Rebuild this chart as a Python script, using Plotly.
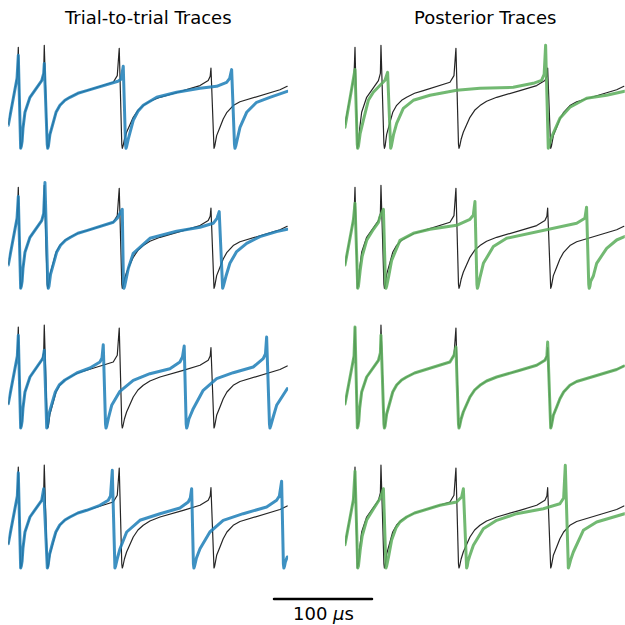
import plotly.graph_objects as go

# ---------------- data (time in microseconds, voltage in mV) ----------------
# Observed trace (black), identical in every panel
OBS_T = [0, 5.1, 9.2, 10.2, 12.1, 12.6, 13.3, 14.1, 15.0, 17.0, 22.1, 29.0, 34.1, 36.1, 36.7, 39.7, 40.2, 40.9,
         41.7, 42.5, 45.9, 48.7, 52.7, 57.8, 62.9, 71.0, 80.0, 96.9, 107.1, 111.2, 113.2, 115.8, 116.3, 117.0,
         117.7, 118.5, 120.7, 127.5, 132.3, 137.7, 144.5, 154.8, 178.5, 195.6, 204.0, 206.0, 206.8, 209.4,
         209.9, 210.6, 211.4, 212.6, 216.0, 219.3, 223.1, 229.5, 236.4, 246.5, 263.6, 277.2, 284.6]
OBS_V = [-51, -23, -3, 26, -71, -75, -73, -68, -55, -39, -24, -14, -7.3, 0, 28, -71, -75, -73, -68, -61, -49,
         -39, -32, -27, -24, -20, -17.3, -12.3, -9, -2.3, 25, -71, -75, -73, -69, -66, -59, -44, -37, -32.3,
         -28, -24, -17.3, -12.3, -7.3, -3, 5.3, -71, -75, -73, -68, -62.3, -54, -45.7, -39, -32.3, -28.5,
         -25.7, -20.7, -16.5, -13]

# Trial-to-trial traces (blue), rows 1-4
B1_T = [0, 5.1, 8.9, 10.2, 12.1, 12.6, 13.3, 14.1, 15.0, 17.0, 22.1, 29.0, 34.1, 36.1, 36.7, 39.7, 40.2, 40.9,
        41.7, 42.5, 45.9, 48.7, 52.7, 57.8, 62.9, 71.0, 80.0, 96.9, 107.1, 111.9, 115.0, 117.3, 119.6, 120.1,
        120.8, 121.6, 122.6, 127.5, 132.3, 137.7, 151.4, 171.8, 195.6, 212.6, 222.8, 225.9, 227.9, 230.8,
        231.3, 232.0, 232.8, 233.8, 236.4, 243.2, 253.4, 266.9, 284.6]
B1_V = [-52, -24, -5, 18, -71, -75, -73, -68, -55, -39, -24, -14, -7.3, 0, 9.7, -71, -75, -73, -68, -61, -49,
        -39, -32, -27, -24, -20, -17.3, -12.3, -9, -8, -6, 7, -71, -75, -73, -69, -65, -47, -38, -32, -24, -19,
        -15, -13, -9, -5, 3.7, -71, -75, -73, -69, -65, -54, -39, -29, -24, -18]

B2_T = [0, 5.1, 8.9, 10.2, 12.1, 12.6, 13.3, 14.1, 15.0, 17.0, 22.1, 29.0, 34.1, 36.1, 37.4, 40.3, 40.8, 41.5,
        42.3, 43.1, 46.5, 49.3, 53.3, 58.4, 63.5, 71.0, 80.0, 96.9, 107.1, 111.2, 116.3, 117.5, 118.0, 118.7,
        119.5, 120.2, 122.5, 127.5, 137.7, 144.5, 171.7, 195.6, 209.1, 213.0, 215.2, 218.2, 218.7, 219.4,
        220.2, 222.1, 226.1, 233.0, 243.2, 256.8, 273.8, 284.6]
B2_V = [-51.7, -24, -5, 16.7, -71, -75, -73, -68, -55, -39, -24, -14, -7.3, 0, 30.7, -71, -75, -73, -68, -61,
        -49, -39, -32, -27, -24, -20, -17.3, -12.3, -9, -5, 4, -71, -75, -73, -69, -65, -55, -40, -31, -25,
        -18, -14, -10, -5, 1.7, -71, -75, -73, -69, -63, -50, -38.3, -30, -23.3, -18.3, -16]

B3_T = [0, 5.1, 9.2, 10.2, 12.1, 12.6, 13.3, 14.1, 15.0, 17.0, 22.1, 29.0, 34.1, 35.5, 36.7, 38.7, 39.2, 39.9,
        40.7, 41.5, 45.0, 48.0, 52.0, 57.8, 63.0, 69.8, 83.3, 93.5, 95.6, 96.9, 99.2, 99.7, 100.4, 101.2, 102.2,
        105.5, 113.9, 127.5, 144.5, 164.9, 175.1, 177.7, 179.5, 181.5, 182.0, 182.7, 183.5, 184.3, 188.7,
        198.9, 212.6, 229.5, 249.9, 260.1, 262.4, 263.6, 266.5, 267.0, 267.7, 268.5, 270.0, 273.8, 284.6]
B3_V = [-50.7, -23, -3, 17.7, -71, -75, -73, -68, -55, -39, -24, -14, -7.3, -5, 2.7, -71, -75, -73, -68, -61,
        -49, -39, -32, -27, -24, -20, -15, -9, -5, 8.3, -71, -75, -73, -69, -65, -52.3, -38.3, -27.3, -20.7,
        -15.7, -9, -4, 7, -71, -75, -73, -69, -66, -55.7, -37.3, -25.7, -19.7, -14, -5.7, -1, 16, -71, -75,
        -73, -69, -65, -52.3, -35.7]

B4_T = [0, 5.1, 9.2, 10.2, 12.1, 12.6, 13.3, 14.1, 15.0, 17.0, 22.1, 29.0, 34.1, 36.1, 39.3, 39.8, 40.5, 41.3,
        42.2, 45.5, 48.5, 52.5, 57.8, 63.0, 71.0, 80.0, 93.5, 102.0, 104.3, 106.1, 108.3, 108.8, 109.5, 110.3,
        111.4, 114.0, 120.8, 134.3, 154.8, 175.1, 183.6, 185.7, 187.1, 188.9, 189.4, 190.1, 190.9, 192.0,
        195.6, 205.7, 219.3, 239.7, 263.6, 273.8, 276.6, 278.9, 280.7, 281.2, 281.9, 282.7, 284.6]
B4_V = [-50.7, -23, -3, 20.3, -71, -75, -73, -68, -55, -39, -24, -14, -7.3, 4.3, -71, -75, -73, -68, -61, -49,
        -39, -32, -27, -24, -20, -17.3, -12.3, -7.3, -3, 22.7, -71, -75, -73, -69, -65, -55.7, -39, -27.3,
        -20.7, -15, -9, -5, 4.3, -71, -75, -73, -69, -65, -55.7, -39, -27.3, -20.7, -14, -7.3, -3, 11.7, -71,
        -75, -73, -69, -64]

# Posterior traces (green), rows 1-4
G1_T = [0, 5.1, 8.5, 10.2, 12.5, 13.0, 13.7, 14.5, 15.5, 18.7, 23.8, 28.9, 35.7, 40.8, 43.5, 46.1, 46.6, 47.3,
        48.1, 49.6, 52.7, 59.5, 69.7, 86.7, 114.0, 137.7, 171.7, 192.1, 200.6, 203.2, 204.7, 206.9, 207.4,
        208.1, 208.9, 209.8, 212.5, 219.3, 229.5, 246.5, 266.9, 285.3]
G1_V = [-54, -27, -7, 3.7, -71, -75, -73, -68, -60, -47, -27, -19, -12, -7, 1, -71, -75, -73, -68, -61, -50,
        -35, -27, -22, -17, -15, -14, -10, -7, -1, 28, -71, -75, -73, -69, -67, -60, -45, -34, -25, -22, -18]

G2_T = [0, 5.1, 8.5, 10.2, 12.5, 13.0, 13.7, 14.5, 15.5, 17.5, 22.1, 29.0, 34.1, 35.7, 39.2, 41.3, 41.8, 42.5,
        43.3, 44.6, 47.6, 56.1, 69.7, 86.7, 113.9, 127.5, 130.9, 132.6, 134.6, 135.1, 135.8, 136.6, 138.0,
        141.2, 151.4, 164.9, 188.7, 216.0, 236.4, 244.8, 246.5, 248.7, 249.2, 249.9, 250.7, 253.3, 256.8,
        267.0, 277.2, 285.3]
G2_V = [-51.7, -25, -7, 10, -71, -75, -73, -68, -57, -43, -27, -16, -9, -3.3, 4, -71, -75, -73, -68, -63, -47,
        -27, -20, -16, -12, -6, -2, 11.7, -71, -75, -73, -68, -63, -50, -33.3, -25, -20, -15, -10, -5, 6, -71,
        -75, -73, -68, -63, -50, -35, -26.7, -23.3]

G3_T = [0, 5.1, 9.2, 10.2, 12.1, 12.6, 13.3, 14.1, 15.0, 17.0, 22.1, 29.0, 34.1, 36.1, 36.7, 39.7, 40.2, 40.9,
        41.7, 42.5, 45.9, 48.7, 52.7, 57.8, 62.9, 71.0, 80.0, 96.9, 107.1, 111.2, 113.2, 115.8, 116.3, 117.0,
        117.7, 118.5, 120.7, 127.5, 132.3, 137.7, 144.5, 154.8, 178.5, 195.6, 204.0, 206.0, 206.8, 209.4,
        209.9, 210.6, 211.4, 212.6, 216.0, 219.3, 223.1, 229.5, 236.4, 246.5, 263.6, 277.2, 284.6]
G3_V = [-51, -23, -3, 26, -71, -75, -73, -68, -55, -39, -24, -14, -7.3, 0, 17.7, -71, -75, -73, -68, -61, -49,
        -39, -32, -27, -24, -20, -17.3, -12.3, -9, -2.3, 6, -71, -75, -73, -69, -66, -59, -44, -37, -32.3,
        -28, -24, -17.3, -12.3, -7.3, -3, 11, -71, -75, -73, -68, -62.3, -54, -45.7, -39, -32.3, -28.5,
        -25.7, -20.7, -16.5, -13]

G4_T = [0, 5.1, 8.5, 10.2, 12.5, 13.0, 13.7, 14.5, 15.5, 17.5, 22.1, 29.0, 34.1, 36.1, 39.2, 41.3, 41.8, 42.5,
        43.3, 44.6, 47.6, 52.0, 56.1, 62.9, 71.0, 80.0, 96.9, 113.9, 119.0, 120.8, 123.6, 124.1, 124.8, 125.6,
        127.2, 131.0, 141.2, 154.8, 175.1, 202.4, 219.3, 223.1, 224.8, 227.4, 227.9, 228.6, 229.4, 230.2,
        233.0, 243.2, 256.8, 273.8, 285.3]
G4_V = [-51.7, -25, -7, 21.7, -71, -75, -73, -68, -57, -43, -27, -16, -9, -5, 4.3, -71, -75, -73, -68, -63,
        -47, -35, -29, -24, -20, -17.3, -12.3, -9, -4, 4.3, -71, -75, -73, -68, -63, -52.3, -35.7, -27.3,
        -20.7, -15.7, -10.7, -5, 27.7, -71, -75, -73, -69, -67, -59, -37.3, -29, -24, -20.7]

COLUMN_TITLES = ["Trial-to-trial Traces", "Posterior Traces"]
SCALE_US = 100
SCALE_LABEL = "100 <i>μ</i>s"

BLUE_TRACES = [(B1_T, B1_V), (B2_T, B2_V), (B3_T, B3_V), (B4_T, B4_V)]
GREEN_TRACES = [(G1_T, G1_V), (G2_T, G2_V), (G3_T, G3_V), (G4_T, G4_V)]

# ---------------- layout constants ----------------
W = H = 625
PX_PER_US = 0.98
T_MAX = 285.5
V_MIN, V_MAX, V_TROUGH = -80, 35, -75
COL_LEFT_PX = [8.3, 345.0]
ROW_TROUGH_PX = [148.3, 288.3, 428.0, 568.0]

BLUE = "rgba(35,130,185,0.88)"
GREEN = "rgba(95,175,95,0.88)"
BLACK = "rgba(25,25,25,0.95)"

fig = go.Figure()
layout = dict(width=W, height=H, margin=dict(l=0, r=0, t=0, b=0),
              paper_bgcolor="white", plot_bgcolor="white", showlegend=False,
              font=dict(family="DejaVu Sans", color="black"))

for r in range(4):
    for c in range(2):
        idx = r * 2 + c + 1
        xs = "" if idx == 1 else str(idx)
        x0 = COL_LEFT_PX[c] / W
        x1 = (COL_LEFT_PX[c] + T_MAX * PX_PER_US) / W
        top_px = ROW_TROUGH_PX[r] - (V_MAX - V_TROUGH)
        bot_px = ROW_TROUGH_PX[r] + (V_TROUGH - V_MIN)
        layout["xaxis" + xs] = dict(domain=[x0, x1], range=[0, T_MAX], visible=False,
                                   anchor="y" + xs, fixedrange=True)
        layout["yaxis" + xs] = dict(domain=[1 - bot_px / H, 1 - top_px / H], range=[V_MIN, V_MAX],
                                   visible=False, anchor="x" + xs, fixedrange=True)
        fig.add_trace(go.Scatter(x=OBS_T, y=OBS_V, mode="lines", xaxis="x" + xs, yaxis="y" + xs,
                                 line=dict(color=BLACK, width=1.2), hoverinfo="skip"))
        tt, vv = (BLUE_TRACES if c == 0 else GREEN_TRACES)[r]
        fig.add_trace(go.Scatter(x=tt, y=vv, mode="lines", xaxis="x" + xs, yaxis="y" + xs,
                                 line=dict(color=BLUE if c == 0 else GREEN, width=3), hoverinfo="skip"))

# scale bar axis
BAR_LEFT_PX = 274.0
BAR_Y_PX = 599.0
layout["xaxis9"] = dict(domain=[0, 1], range=[-BAR_LEFT_PX / PX_PER_US, (W - BAR_LEFT_PX) / PX_PER_US],
                        visible=False, anchor="y9", fixedrange=True)
layout["yaxis9"] = dict(domain=[1 - (BAR_Y_PX + 12) / H, 1 - (BAR_Y_PX - 12) / H], range=[-1, 1],
                        visible=False, anchor="x9", fixedrange=True)
fig.add_trace(go.Scatter(x=[0, SCALE_US], y=[0, 0], mode="lines", xaxis="x9", yaxis="y9",
                         line=dict(color="black", width=2.5), hoverinfo="skip"))

annotations = []
for c in range(2):
    cx = (COL_LEFT_PX[c] + T_MAX * PX_PER_US / 2) / W
    annotations.append(dict(text=COLUMN_TITLES[c], x=cx, y=1 - 17 / H, xref="paper", yref="paper",
                            xanchor="center", yanchor="middle", showarrow=False,
                            font=dict(size=18, family="DejaVu Sans", color="black")))
annotations.append(dict(text=SCALE_LABEL, x=SCALE_US / 2, xref="x9", y=1 - 613 / H, yref="paper",
                        xanchor="center", yanchor="middle", showarrow=False,
                        font=dict(size=18, family="DejaVu Sans", color="black")))
layout["annotations"] = annotations

fig.update_layout(**layout)

POST = """
(function(){
  function fix(){
    document.body.style.margin = '0px';
    document.body.style.overflow = 'hidden';
    document.querySelectorAll('.scatterlayer path.js-line').forEach(function(p){
      p.style.strokeLinejoin = 'round';
      p.style.strokeLinecap = 'round';
    });
  }
  fix();
  setTimeout(fix, 30);
  setTimeout(fix, 200);
})();
"""
fig.write_html("out.html", post_script=POST, config={"displayModeBar": False})
